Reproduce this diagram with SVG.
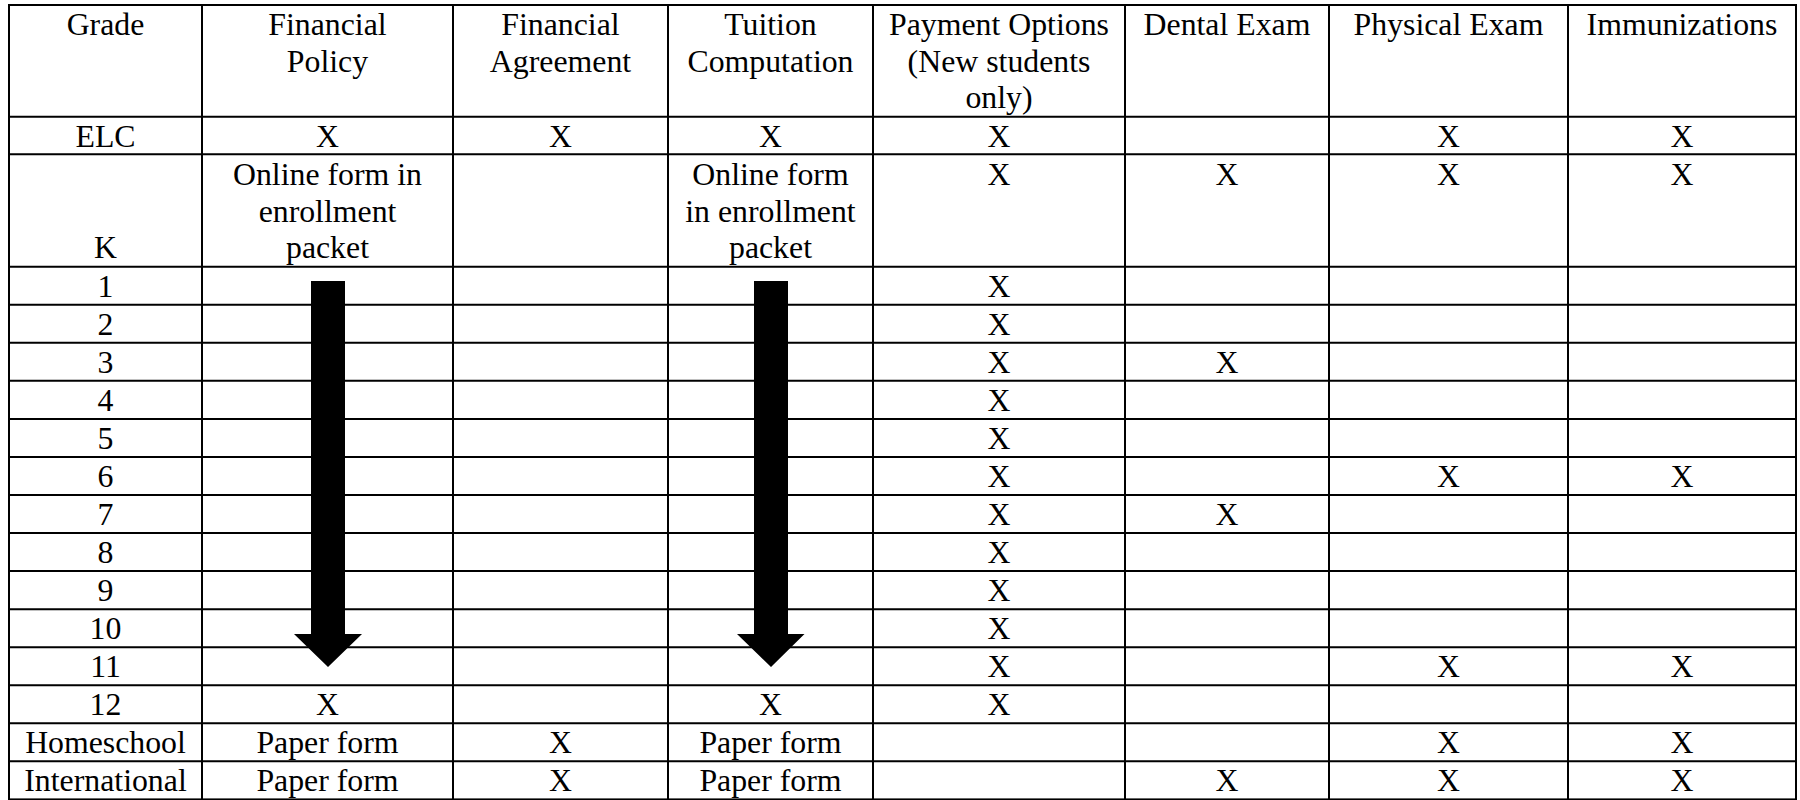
<svg xmlns="http://www.w3.org/2000/svg" width="1800" height="800" viewBox="0 0 1800 800">
<style>
  text { font-family: "Liberation Serif", "Times New Roman", serif; font-size: 31.8px; fill: #000; text-anchor: middle; }
  .grid { stroke: #000; stroke-width: 2; fill: none; }
  .arrow { fill: #000; stroke: none; }
</style>
<rect width="1800" height="800" fill="#fff"/>
<g id="grid" class="grid">
  <rect x="9" y="5" width="1787" height="794.4"/>
  <path d="M202 5V799.4M453 5V799.4M668 5V799.4M873 5V799.4M1125 5V799.4M1329 5V799.4M1568 5V799.4"/>
  <path d="M9 116.7H1796M9 154.3H1796M9 266.7H1796M9 304.75H1796M9 342.8H1796M9 380.85H1796M9 418.9H1796M9 456.95H1796M9 495H1796M9 533.05H1796M9 571.1H1796M9 609.15H1796M9 647.2H1796M9 685.25H1796M9 723.3H1796M9 761.35H1796"/>
</g>
<g id="header">
  <text x="105.5" y="35">Grade</text>
  <text x="327.5" y="35">Financial</text><text x="327.5" y="71.7">Policy</text>
  <text x="560.5" y="35">Financial</text><text x="560.5" y="71.7">Agreement</text>
  <text x="770.5" y="35">Tuition</text><text x="770.5" y="71.7">Computation</text>
  <text x="999" y="35">Payment Options</text><text x="999" y="71.7">(New students</text><text x="999" y="108.4">only)</text>
  <text x="1227" y="35">Dental Exam</text>
  <text x="1448.5" y="35">Physical Exam</text>
  <text x="1682" y="35">Immunizations</text>
</g>
<g id="row-elc">
  <text x="105.5" y="146.7">ELC</text>
  <text x="327.5" y="146.7">X</text><text x="560.5" y="146.7">X</text><text x="770.5" y="146.7">X</text><text x="999" y="146.7">X</text>
  <text x="1448.5" y="146.7">X</text><text x="1682" y="146.7">X</text>
</g>
<g id="row-k">
  <text x="105.5" y="258.4">K</text>
  <text x="327.5" y="185">Online form in</text><text x="327.5" y="221.7">enrollment</text><text x="327.5" y="258.4">packet</text>
  <text x="770.5" y="185">Online form</text><text x="770.5" y="221.7">in enrollment</text><text x="770.5" y="258.4">packet</text>
  <text x="999" y="185">X</text><text x="1227" y="185">X</text><text x="1448.5" y="185">X</text><text x="1682" y="185">X</text>
</g>
<g id="row-1"><text x="105.5" y="296.7">1</text><text x="999" y="296.7">X</text></g>
<g id="row-2"><text x="105.5" y="334.75">2</text><text x="999" y="334.75">X</text></g>
<g id="row-3"><text x="105.5" y="372.8">3</text><text x="999" y="372.8">X</text><text x="1227" y="372.8">X</text></g>
<g id="row-4"><text x="105.5" y="410.85">4</text><text x="999" y="410.85">X</text></g>
<g id="row-5"><text x="105.5" y="448.9">5</text><text x="999" y="448.9">X</text></g>
<g id="row-6"><text x="105.5" y="486.95">6</text><text x="999" y="486.95">X</text><text x="1448.5" y="486.95">X</text><text x="1682" y="486.95">X</text></g>
<g id="row-7"><text x="105.5" y="525">7</text><text x="999" y="525">X</text><text x="1227" y="525">X</text></g>
<g id="row-8"><text x="105.5" y="563.05">8</text><text x="999" y="563.05">X</text></g>
<g id="row-9"><text x="105.5" y="601.1">9</text><text x="999" y="601.1">X</text></g>
<g id="row-10"><text x="105.5" y="639.15">10</text><text x="999" y="639.15">X</text></g>
<g id="row-11"><text x="105.5" y="677.2">11</text><text x="999" y="677.2">X</text><text x="1448.5" y="677.2">X</text><text x="1682" y="677.2">X</text></g>
<g id="row-12"><text x="105.5" y="715.25">12</text><text x="327.5" y="715.25">X</text><text x="770.5" y="715.25">X</text><text x="999" y="715.25">X</text></g>
<g id="row-homeschool">
  <text x="105.5" y="753.3">Homeschool</text><text x="327.5" y="753.3">Paper form</text><text x="560.5" y="753.3">X</text><text x="770.5" y="753.3">Paper form</text>
  <text x="1448.5" y="753.3">X</text><text x="1682" y="753.3">X</text>
</g>
<g id="row-international">
  <text x="105.5" y="791.35">International</text><text x="327.5" y="791.35">Paper form</text><text x="560.5" y="791.35">X</text><text x="770.5" y="791.35">Paper form</text>
  <text x="1227" y="791.35">X</text><text x="1448.5" y="791.35">X</text><text x="1682" y="791.35">X</text>
</g>
<g id="connectors">
  <polygon class="arrow" points="311,281 345,281 345,634 362,634 328,667 294,634 311,634"/>
  <polygon class="arrow" points="754,281 788,281 788,634 804.5,634 771,667 737,634 754,634"/>
</g>
</svg>
